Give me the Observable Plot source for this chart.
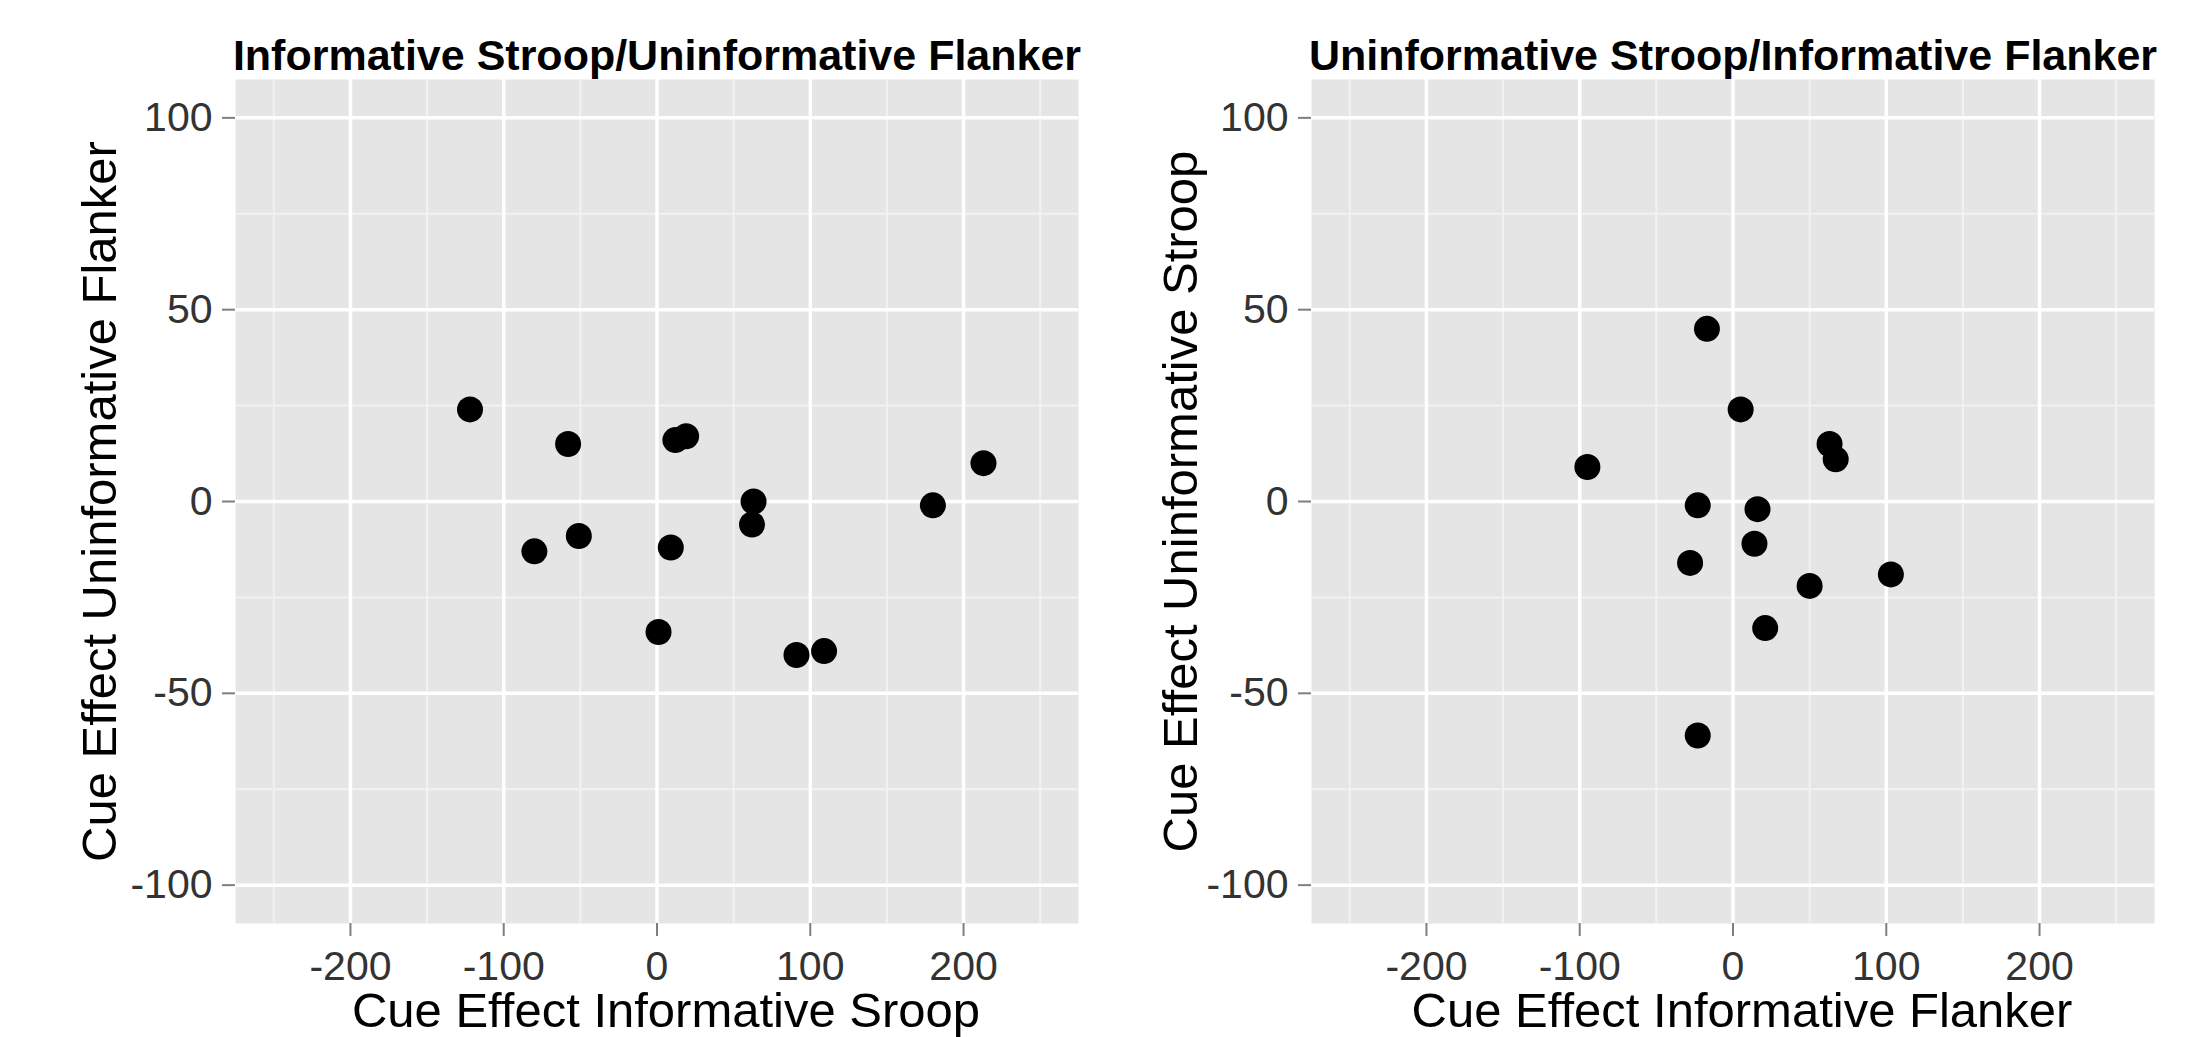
<!DOCTYPE html>
<html>
<head>
<meta charset="utf-8">
<script src="https://cdn.jsdelivr.net/npm/d3@7"></script>
<script src="https://cdn.jsdelivr.net/npm/@observablehq/plot@0.6"></script>
<style>
  html, body { margin: 0; padding: 0; background: #ffffff; }
  #wrap { display: flex; flex-direction: row; width: 2211px; height: 1037px; }
  svg { display: block; }
</style>
</head>
<body>
<div id="wrap"></div>
<script>
// ---- Data ----
const titles = ["Informative Stroop/Uninformative Flanker", "Uninformative Stroop/Informative Flanker"];
const xLabels = ["Cue Effect Informative Sroop", "Cue Effect Informative Flanker"];
const yLabels = ["Cue Effect Uninformative Flanker", "Cue Effect Uninformative Stroop"];

const leftX = [-122, -58, -80, -51, 12, 19, 9, 1, 63, 62, 91, 109, 180, 213];
const leftY = [24, 15, -13, -9, 16, 17, -12, -34, 0, -6, -40, -39, -1, 10];

const rightX = [-17, 5, 63, 67, -95, -23, 16, 14, -28, 50, 103, 21, -23];
const rightY = [45, 24, 15, 11, 9, -1, -2, -11, -16, -22, -19, -33, -61];

const xMajor = [-200, -100, 0, 100, 200];
const xMinor = [-250, -150, -50, 50, 150, 250];
const yMajor = [-100, -50, 0, 50, 100];
const yMinor = [-75, -25, 25, 75];
const xDomain = [-275, 275];
const yDomain = [-110, 110];

// ---- Drawing ----
const FONT = "'Liberation Sans', Arial, Helvetica, sans-serif";

function panel(xs, ys, title, xLab, yLab, m) {
  const pts = xs.map((x, i) => ({x, y: ys[i]}));
  return Plot.plot({
    width: m.width,
    height: 1037,
    marginLeft: m.left,
    marginRight: m.right,
    marginTop: 79,
    marginBottom: 114,
    style: {fontFamily: FONT, background: "#ffffff", overflow: "visible"},
    x: {domain: xDomain, label: null},
    y: {domain: yDomain, label: null},
    marks: [
      Plot.frame({fill: "#E5E5E5", stroke: null}),
      Plot.ruleX(xMinor, {stroke: "#F2F2F2", strokeWidth: 2}),
      Plot.ruleY(yMinor, {stroke: "#F2F2F2", strokeWidth: 2}),
      Plot.ruleX(xMajor, {stroke: "#FFFFFF", strokeWidth: 3.5}),
      Plot.ruleY(yMajor, {stroke: "#FFFFFF", strokeWidth: 3.5}),
      Plot.axisX({ticks: xMajor, tickSize: 13, tickPadding: 14, fontSize: 41, stroke: "#7F7F7F", strokeWidth: 2, fill: "#333333", label: null, tickFormat: d => String(d)}),
      Plot.axisY({ticks: yMajor, tickSize: 13, tickPadding: 10, fontSize: 41, stroke: "#7F7F7F", strokeWidth: 2, fill: "#333333", label: null, tickFormat: d => String(d)}),
      Plot.dot(pts, {x: "x", y: "y", r: 13, fill: "#000000", stroke: null}),
      Plot.text([title], {frameAnchor: "top", text: d => d, dy: -10, lineAnchor: "bottom", fontSize: 43, fontWeight: "bold", fill: "#000000"}),
      Plot.text([xLab], {frameAnchor: "bottom", text: d => d, dx: 9, dy: 103, lineAnchor: "bottom", fontSize: 49, fill: "#000000"}),
      Plot.text([yLab], {frameAnchor: "left", text: d => d, dx: m.yTitleDx, rotate: -90, textAnchor: "middle", lineAnchor: "bottom", fontSize: 49, fill: "#000000"})
    ]
  });
}

const wrap = document.getElementById("wrap");
wrap.appendChild(panel(leftX, leftY, titles[0], xLabels[0], yLabels[0], {width: 1105, left: 235, right: 27, yTitleDx: -120}));
wrap.appendChild(panel(rightX, rightY, titles[1], xLabels[1], yLabels[1], {width: 1106, left: 206, right: 57, yTitleDx: -115}));
</script>
</body>
</html>
